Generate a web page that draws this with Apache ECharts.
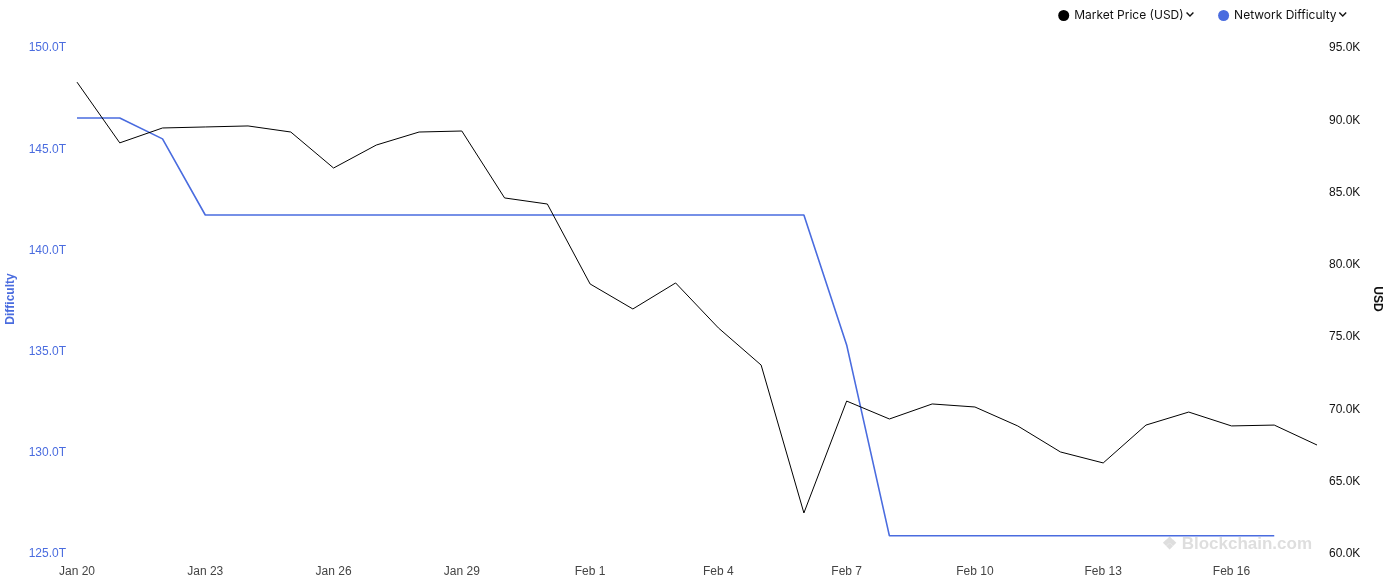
<!DOCTYPE html>
<html>
<head>
<meta charset="utf-8">
<script src="https://cdn.jsdelivr.net/npm/echarts@6/dist/echarts.min.js"></script>
<style>html,body{margin:0;padding:0;background:#fff;}#c{width:1393px;height:580px;}</style>
</head>
<body>
<div id="c"></div>
<script>
const categories = ['Jan 20','Jan 21','Jan 22','Jan 23','Jan 24','Jan 25','Jan 26','Jan 27','Jan 28','Jan 29','Jan 30','Jan 31',
  'Feb 1','Feb 2','Feb 3','Feb 4','Feb 5','Feb 6','Feb 7','Feb 8','Feb 9','Feb 10','Feb 11','Feb 12','Feb 13','Feb 14','Feb 15','Feb 16','Feb 17','Feb 18'];
// Market price in USD
const marketPrice = [92500, 88300, 89330, 89400, 89470, 89050, 86560, 88150, 89050, 89120, 84490, 84070,
  78540, 76810, 78610, 75500, 72930, 62700, 70440, 69200, 70240, 70030, 68720, 66920, 66160, 68780, 69680, 68720, 68780, 67400];
// Network difficulty in T
const difficulty = [146.44, 146.44, 145.41, 141.65, 141.65, 141.65, 141.65, 141.65, 141.65, 141.65, 141.65, 141.65,
  141.65, 141.65, 141.65, 141.65, 141.65, 141.65, 135.23, 125.8, 125.8, 125.8, 125.8, 125.8, 125.8, 125.8, 125.8, 125.8, 125.8, null];
const leftTicks = {min: 125, max: 150, interval: 5};
const rightTicks = {min: 60000, max: 95000, interval: 5000};

const BLUE = '#4a6cdf';
const chart = echarts.init(document.getElementById('c'), null, {renderer: 'canvas'});
chart.setOption({
  animation: false,
  backgroundColor: '#fff',
  textStyle: {fontFamily: 'Inter, "Noto Sans", sans-serif'},
  legend: {
    right: 40, top: 2,
    itemWidth: 11, itemHeight: 11, itemGap: 23,
    icon: 'circle',
    textStyle: {fontSize: 12, color: '#111', fontFamily: 'Inter, sans-serif',
      rich: {a: {fontSize: 13, fontWeight: 'bold', color: '#111', padding: [0, 0, 4, 1]}}},
    formatter: function (n) { return n + '{a|⌄}'; },
    data: [
      {name: 'Market Price (USD)', itemStyle: {color: '#000'}},
      {name: 'Network Difficulty', itemStyle: {color: BLUE}}
    ]
  },
  grid: {left: 77, right: 76, top: 46, bottom: 28, containLabel: false, outerBoundsMode: 'none'},
  xAxis: {
    type: 'category',
    data: categories,
    boundaryGap: false,
    axisLine: {show: false},
    axisTick: {show: false},
    splitLine: {show: false},
    axisLabel: {interval: 2, color: '#444', fontSize: 12, margin: 14, fontFamily: 'Arial, "Liberation Sans", sans-serif'}
  },
  yAxis: [
    {
      type: 'value', position: 'left',
      min: leftTicks.min, max: leftTicks.max, interval: leftTicks.interval,
      name: 'Difficulty', nameLocation: 'middle', nameGap: 60,
      nameTextStyle: {color: BLUE, fontWeight: 'bold', fontSize: 12, fontFamily: 'Arial, "Liberation Sans", sans-serif'},
      axisLine: {show: false}, axisTick: {show: false}, splitLine: {show: false},
      axisLabel: {color: BLUE, fontSize: 12, margin: 11, fontFamily: 'Arial, "Liberation Sans", sans-serif',
        formatter: function (v) { return '{v|' + v.toFixed(1) + 'T}'; },
        rich: {v: {color: BLUE, fontSize: 12, padding: [4, 0, 0, 0], fontFamily: 'Arial, "Liberation Sans", sans-serif'}}}
    },
    {
      type: 'value', position: 'right',
      min: rightTicks.min, max: rightTicks.max, interval: rightTicks.interval,
      name: 'USD', nameLocation: 'middle', nameGap: 54, nameRotate: -90,
      nameTextStyle: {color: '#111', fontWeight: 'bold', fontSize: 12, fontFamily: 'Arial, "Liberation Sans", sans-serif'},
      axisLine: {show: false}, axisTick: {show: false}, splitLine: {show: false},
      axisLabel: {color: '#111', fontSize: 12, margin: 12, fontFamily: 'Arial, "Liberation Sans", sans-serif',
        formatter: function (v) { return '{v|' + (v / 1000).toFixed(1) + 'K}'; },
        rich: {v: {color: '#111', fontSize: 12, padding: [4, 0, 0, 0], fontFamily: 'Arial, "Liberation Sans", sans-serif'}}}
    }
  ],
  graphic: [{
    type: 'text', right: 81, bottom: 27,
    style: {text: '❖ Blockchain.com', fill: '#dedede', font: 'bold 17px Arial, "Liberation Sans", sans-serif'}
  }],
  series: [
    {
      name: 'Market Price (USD)', type: 'line', yAxisIndex: 1,
      data: marketPrice, showSymbol: false, symbol: 'none',
      lineStyle: {color: '#000', width: 1}, itemStyle: {color: '#000'}, z: 3
    },
    {
      name: 'Network Difficulty', type: 'line', yAxisIndex: 0,
      data: difficulty, showSymbol: false, symbol: 'none',
      lineStyle: {color: BLUE, width: 1.6}, itemStyle: {color: BLUE}, z: 2
    }
  ]
});
</script>
</body>
</html>
